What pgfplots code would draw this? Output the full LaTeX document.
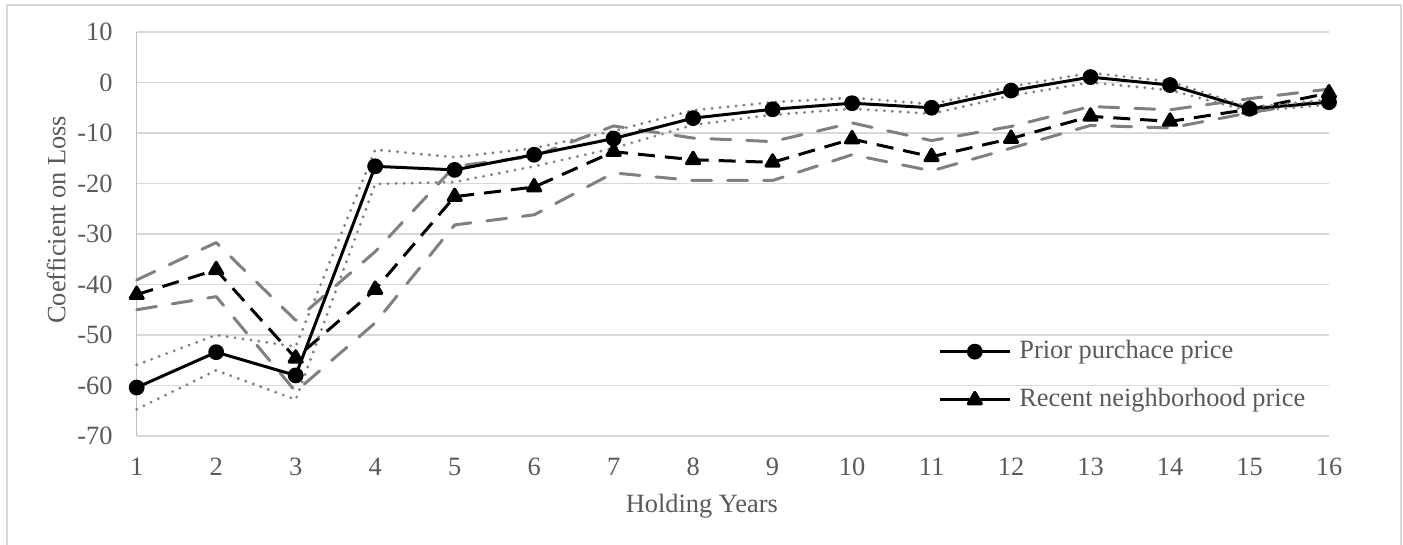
\documentclass[border=0pt]{standalone}
\usepackage{fontspec}
\setmainfont{Liberation Serif}
\usepackage{pgfplots}
\pgfplotsset{compat=1.18}
\definecolor{txt}{HTML}{595959}
\definecolor{gridc}{HTML}{D9D9D9}
\definecolor{axisl}{HTML}{BFBFBF}
\definecolor{ci}{HTML}{808080}
\newcommand{\fs}{\fontsize{13.2}{15.8}\selectfont}
\begin{document}
\begin{tikzpicture}
\path[use as bounding box] (-68.35pt,-54.5pt) rectangle (633.15pt,218pt);
\draw[color=gridc, line width=0.75pt] (-64.85pt,-70pt) -- (-64.85pt,215.5pt) -- (632.15pt,215.5pt) -- (632.15pt,-70pt);
\begin{axis}[
  at={(0pt,0pt)}, anchor=south west, scale only axis,
  width=596.15pt, height=202pt,
  xmin=1, xmax=16, ymin=-70, ymax=10,
  xtick={1,...,16}, ytick={-70,-60,...,10},
  ymajorgrids, grid style={color=gridc, line width=0.75pt},
  axis lines=left, axis line style={-, draw=axisl, line width=0.75pt},
  x axis line style={draw=gridc},
  major tick length=0pt, tick style={draw=none},
  clip=false,
  /pgf/number format/assume math mode=true,
  ticklabel style={font=\fs, text=txt, inner sep=0pt},
  xticklabel style={anchor=base, yshift=-20pt},
  yticklabel style={anchor=east, xshift=-11.85pt},
  xlabel={Holding Years},
  xlabel style={at={(axis description cs:0.474,-0.1906)}, anchor=base, font=\fs, text=txt},
  ylabel={Coefficient on Loss},
  ylabel style={at={(axis description cs:-0.0676,0.535)}, anchor=center, font=\fs, text=txt},
  legend style={draw=none, fill=none, at={(axis description cs:0.672,0.149)}, anchor=west,
    inner sep=0pt, font=\fs, text=txt, row sep=12.15pt,
    nodes={inner sep=0pt, text height=9.5pt, text depth=2.5pt},
    /tikz/every odd column/.append style={column sep=4pt}},
  legend cell align=left,
  legend image code/.code={\draw[mark repeat=2,mark phase=2,#1,solid] plot coordinates {(0pt,0pt) (17.5pt,0pt) (35pt,0pt)};},
]
% Recent neighborhood price CI (gray dashed)
\addplot[ci, line width=1.5pt, line cap=round, line join=round, dash pattern=on 10pt off 8pt, forget plot] coordinates {
(1,-39.1) (2,-31.7) (3,-47.1) (4,-33.5) (5,-16.6) (6,-14.6) (7,-8.6) (8,-11.0)
(9,-11.7) (10,-8.0) (11,-11.5) (12,-8.7) (13,-4.75) (14,-5.4) (15,-3.2) (16,-1.3)};
\addplot[ci, line width=1.5pt, line cap=round, line join=round, dash pattern=on 10pt off 8pt, forget plot] coordinates {
(1,-45.0) (2,-42.4) (3,-61.2) (4,-47.6) (5,-28.2) (6,-26.2) (7,-17.9) (8,-19.4)
(9,-19.4) (10,-14.3) (11,-17.5) (12,-13.0) (13,-8.5) (14,-9.0) (15,-6.0) (16,-3.4)};
% Prior purchase price
\addplot[black, line width=1.5pt, line join=round, mark=*, mark size=3.2pt, mark options={solid}] coordinates {
(1,-60.4) (2,-53.4) (3,-58.0) (4,-16.6) (5,-17.3) (6,-14.3) (7,-11.1) (8,-7.05)
(9,-5.3) (10,-4.1) (11,-5.0) (12,-1.6) (13,1.07) (14,-0.5) (15,-5.2) (16,-3.9)};
\addlegendentry{Prior purchace price}
% Recent neighborhood price
\addplot[black, line width=1.5pt, line join=round, dash pattern=on 8.5pt off 5pt, mark=triangle*, mark size=3.8pt, mark options={solid}] coordinates {
(1,-42.0) (2,-37.1) (3,-54.6) (4,-41.0) (5,-22.6) (6,-20.7) (7,-13.7) (8,-15.3)
(9,-15.8) (10,-11.2) (11,-14.7) (12,-11.1) (13,-6.7) (14,-7.7) (15,-5.3) (16,-2.1)};
\addlegendentry{Recent neighborhood price}
% Prior purchase price CI (gray dotted)
\addplot[ci, line width=1.6pt, line cap=round, dash pattern=on 0pt off 4pt, forget plot] coordinates {
(1,-55.9) (2,-50.0) (3,-52.3) (4,-13.3) (5,-14.8) (6,-13.0) (7,-9.6) (8,-5.5)
(9,-3.9) (10,-3.0) (11,-4.3) (12,-0.8) (13,1.9) (14,0.2) (15,-4.9) (16,-3.4)};
\addplot[ci, line width=1.6pt, line cap=round, dash pattern=on 0pt off 4pt, forget plot] coordinates {
(1,-64.7) (2,-57.0) (3,-62.8) (4,-20.1) (5,-19.7) (6,-16.6) (7,-13.0) (8,-8.4)
(9,-6.4) (10,-5.2) (11,-6.2) (12,-2.6) (13,0.0) (14,-1.5) (15,-5.7) (16,-4.4)};
\end{axis}
\end{tikzpicture}
\end{document}
